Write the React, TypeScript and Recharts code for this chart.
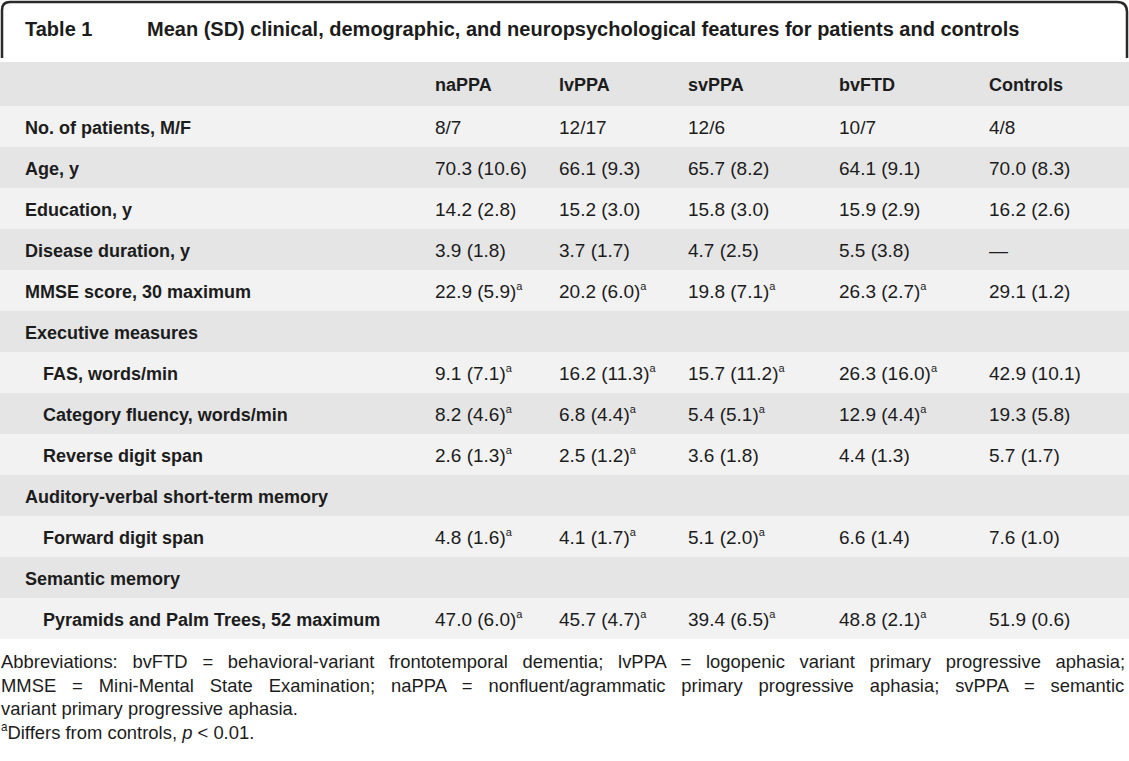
import React from "react";
import { BarChart, Bar, XAxis, YAxis, Surface, Layer } from "recharts";

// ---------- data ----------
const title = "Table 1";
const subtitle = "Mean (SD) clinical, demographic, and neuropsychological features for patients and controls";
const columns = ["naPPA", "lvPPA", "svPPA", "bvFTD", "Controls"];
const rowLabels = [
  "No. of patients, M/F",
  "Age, y",
  "Education, y",
  "Disease duration, y",
  "MMSE score, 30 maximum",
  "Executive measures",
  "FAS, words/min",
  "Category fluency, words/min",
  "Reverse digit span",
  "Auditory-verbal short-term memory",
  "Forward digit span",
  "Semantic memory",
  "Pyramids and Palm Trees, 52 maximum",
];
const rowIndented = [false, false, false, false, false, false, true, true, true, false, true, false, true];
const naPPA = ["8/7", "70.3 (10.6)", "14.2 (2.8)", "3.9 (1.8)", "22.9 (5.9)", "", "9.1 (7.1)", "8.2 (4.6)", "2.6 (1.3)", "", "4.8 (1.6)", "", "47.0 (6.0)"];
const lvPPA = ["12/17", "66.1 (9.3)", "15.2 (3.0)", "3.7 (1.7)", "20.2 (6.0)", "", "16.2 (11.3)", "6.8 (4.4)", "2.5 (1.2)", "", "4.1 (1.7)", "", "45.7 (4.7)"];
const svPPA = ["12/6", "65.7 (8.2)", "15.8 (3.0)", "4.7 (2.5)", "19.8 (7.1)", "", "15.7 (11.2)", "5.4 (5.1)", "3.6 (1.8)", "", "5.1 (2.0)", "", "39.4 (6.5)"];
const bvFTD = ["10/7", "64.1 (9.1)", "15.9 (2.9)", "5.5 (3.8)", "26.3 (2.7)", "", "26.3 (16.0)", "12.9 (4.4)", "4.4 (1.3)", "", "6.6 (1.4)", "", "48.8 (2.1)"];
const controls = ["4/8", "70.0 (8.3)", "16.2 (2.6)", "—", "29.1 (1.2)", "", "42.9 (10.1)", "19.3 (5.8)", "5.7 (1.7)", "", "7.6 (1.0)", "", "51.9 (0.6)"];
const naPPASig = [0, 0, 0, 0, 1, 0, 1, 1, 1, 0, 1, 0, 1];
const lvPPASig = [0, 0, 0, 0, 1, 0, 1, 1, 1, 0, 1, 0, 1];
const svPPASig = [0, 0, 0, 0, 1, 0, 1, 1, 0, 0, 1, 0, 1];
const bvFTDSig = [0, 0, 0, 0, 1, 0, 1, 1, 0, 0, 0, 0, 1];
const controlsSig = [0, 0, 0, 0, 0, 0, 0, 0, 0, 0, 0, 0, 0];
const footLines = [
  "Abbreviations: bvFTD = behavioral-variant frontotemporal dementia; lvPPA = logopenic variant primary progressive aphasia;",
  "MMSE = Mini-Mental State Examination; naPPA = nonfluent/agrammatic primary progressive aphasia; svPPA = semantic",
  "variant primary progressive aphasia.",
];

const valueCols = [naPPA, lvPPA, svPPA, bvFTD, controls];
const sigCols = [naPPASig, lvPPASig, svPPASig, bvFTDSig, controlsSig];

const rows = rowLabels.map((label, i) => ({
  label,
  band: 1,
  indent: rowIndented[i],
  values: valueCols.map((c) => c[i]),
  sig: sigCols.map((c) => c[i]),
}));

// ---------- layout / style ----------
const W = 1129;
const H = 761;
const COL_X = [435, 559, 688, 839, 989];
const LABEL_X = 25;
const INDENT_X = 43;
const TEXT = "#1c1c1c";
const BOLD = "'Liberation Sans', Arial, sans-serif";
const REG = "'Liberation Sans', Arial, sans-serif";
const LIGHT = "#f2f2f2";
const DARK = "#e5e5e5";
const HEAD = "#e4e4e4";
const FOOT_SIZE = 19;
const FOOT_SCALE = 0.97;
const FOOT_Y0 = 668;
const FOOT_DY = 23.6;

function measure(text: string, font: string) {
  if (typeof document === "undefined") return 0;
  const c = document.createElement("canvas");
  const ctx = c.getContext("2d");
  if (!ctx) return 0;
  ctx.font = font;
  return ctx.measureText(text).width;
}

const RowShape = (props: any) => {
  const { y, height, index, payload } = props;
  const fill = index % 2 === 0 ? LIGHT : DARK;
  const base = y + height / 2 + 7;
  return (
    <g>
      <rect x={0} y={y} width={W} height={height} fill={fill} />
      <text
        x={payload.indent ? INDENT_X : LABEL_X}
        y={base}
        fontFamily={BOLD}
        fontWeight="bold"
        fontSize={18}
        fill={TEXT}
      >
        {payload.label}
      </text>
      {payload.values.map((v: string, j: number) =>
        v ? (
          <text key={j} x={COL_X[j]} y={base} fontFamily={REG} fontSize={19} fill={TEXT}>
            {v}
            {payload.sig[j] ? (
              <tspan fontSize={11} dy={-8}>
                a
              </tspan>
            ) : null}
          </text>
        ) : null
      )}
    </g>
  );
};

const Decor = () => {
  const footFont = `${FOOT_SIZE}px 'Liberation Sans', Arial, sans-serif`;
  const target = 1126 / FOOT_SCALE;
  const spacing = footLines.slice(0, 2).map((l) => {
    const w = measure(l, footFont);
    const spaces = (l.match(/ /g) || []).length;
    return w > 0 ? Math.max(0, (target - w) / spaces) : 0;
  });
  return (
    <Surface width={W} height={H} style={{ position: "absolute", left: 0, top: 0, pointerEvents: "none" }}>
      <Layer>
        <path
          d={`M2,58 L2,10 Q2,2 10,2 L1117,2 Q1127,2 1127,12 L1127,58`}
          fill="none"
          stroke="#2a2a2a"
          strokeWidth={2.5}
        />
        <text x={25} y={36} fontFamily={BOLD} fontWeight="bold" fontSize={20} fill={TEXT}>
          {title}
        </text>
        <text x={147} y={36} fontFamily={BOLD} fontWeight="bold" fontSize={20} fill={TEXT}>
          {subtitle}
        </text>
        <rect x={0} y={62} width={W} height={44} fill={HEAD} />
        {columns.map((c, j) => (
          <text key={c} x={COL_X[j]} y={91} fontFamily={BOLD} fontWeight="bold" fontSize={18} fill={TEXT}>
            {c}
          </text>
        ))}
      </Layer>
      <Layer>
        {footLines.map((l, i) => (
          <text
            key={i}
            x={0}
            y={0}
            transform={`translate(1 ${FOOT_Y0 + i * FOOT_DY}) scale(${FOOT_SCALE} 1)`}
            fontFamily={REG}
            fontSize={FOOT_SIZE}
            fill={TEXT}
            style={i < 2 ? { wordSpacing: `${spacing[i]}px` } : undefined}
          >
            {l}
          </text>
        ))}
        <text
          x={0}
          y={0}
          transform={`translate(1 ${FOOT_Y0 + 3 * FOOT_DY}) scale(${FOOT_SCALE} 1)`}
          fontFamily={REG}
          fontSize={FOOT_SIZE}
          fill={TEXT}
        >
          <tspan fontSize={12} dy={-8}>a</tspan>
          <tspan dy={8}>{"Differs from controls, "}</tspan>
          <tspan fontStyle="italic">p</tspan>
          <tspan>{" < 0.01."}</tspan>
        </text>
      </Layer>
    </Surface>
  );
};

export default function App() {
  return (
    <div style={{ position: "relative", width: W, height: H, background: "#fff" }}>
      <style>{"body{margin:0}"}</style>
      <BarChart
        width={W}
        height={H}
        data={rows}
        layout="vertical"
        margin={{ top: 106, right: 0, bottom: 122, left: 0 }}
        barCategoryGap={0}
      >
        <XAxis type="number" domain={[0, 1]} hide />
        <YAxis type="category" dataKey="label" hide width={0} />
        <Bar dataKey="band" isAnimationActive={false} shape={RowShape} />
      </BarChart>
      <Decor />
    </div>
  );
}
